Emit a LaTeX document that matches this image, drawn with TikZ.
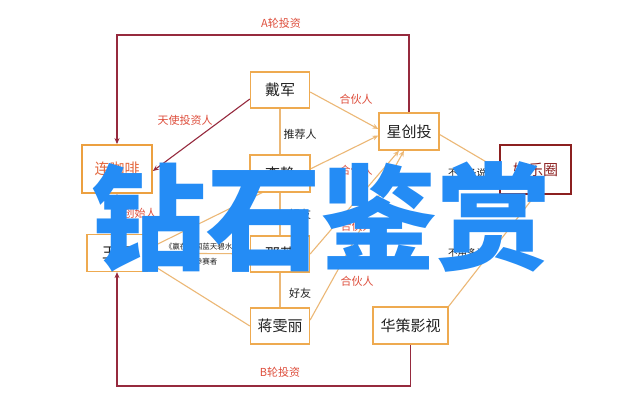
\documentclass[tikz,border=0pt]{standalone}
\usepackage{fontspec}
\setmainfont{Noto Sans CJK SC}
\usetikzlibrary{arrows.meta,backgrounds}
\definecolor{boxorange}{RGB}{238,170,80}
\definecolor{lineorange}{RGB}{236,184,118}
\definecolor{darkred}{RGB}{150,42,62}
\definecolor{lkforange}{RGB}{236,160,64}
\definecolor{lkftext}{RGB}{228,104,62}
\definecolor{ylqred}{RGB}{140,32,32}
\definecolor{lblred}{RGB}{222,78,60}
\definecolor{boxtext}{RGB}{34,34,34}
\definecolor{bigblue}{RGB}{36,140,245}
\tikzset{
  box/.style={draw=boxorange, line width=1.3pt, fill=white, inner sep=0pt,
    font=\fontsize{15}{18}\selectfont, text=boxtext,
    minimum width=60pt, minimum height=37pt},
  lbl/.style={font=\fontsize{11}{13}\selectfont, text=lblred, inner sep=0pt},
  lblk/.style={font=\fontsize{11}{13}\selectfont, text=boxtext, inner sep=0pt},
  lblsmall/.style={font=\fontsize{9.5}{12}\selectfont, text=boxtext, inner sep=0pt},
  oline/.style={draw=lineorange, line width=1.1pt},
  rline/.style={draw=darkred, line width=1.1pt},
  arr/.style={-{Stealth[length=6pt,width=5pt]}},
  bigtext/.style={font=\fontsize{115}{115}\selectfont\bfseries, text=bigblue, inner sep=0pt}
}
\begin{document}
\begin{tikzpicture}[x=1pt,y=-1pt]
\useasboundingbox (0,0) rectangle (640,411);

% boxes
\node[box, minimum width=59pt, minimum height=36pt] (dj) at (280,90) {戴军};
\node[box] (xct) at (409,131.5) {星创投};
\node[box, draw=lkforange, line width=1.8pt, text=lkftext, minimum width=70pt, minimum height=48pt] (lkf) at (117,169) {连咖啡};
\node[box, draw=ylqred, line width=1.8pt, text=ylqred, minimum width=71pt, minimum height=49pt] (ylq) at (535.5,169.5) {娱乐圈};
\node[box] (lj) at (280,173.5) {李静};
\node[box] (wk) at (117,253) {王珂};
\node[box, minimum width=59pt, minimum height=36pt] (ny) at (280,254) {那英};
\node[box, minimum width=59pt, minimum height=36pt] (jwl) at (280,326) {蒋雯丽};
\node[box, minimum width=75pt] (hc) at (410.5,325.5) {华策影视};

% connectors
\begin{pgfonlayer}{background}
\fill[white] (0,0) rectangle (640,411);
\coordinate (atop) at (0,35);
\coordinate (bbot) at (0,386);
\draw[rline,arr] (xct.north) -- (xct.north |- atop) -- (lkf.north |- atop) -- (lkf.north);
\draw[rline,arr] (hc.south) -- (hc.south |- bbot) -- (wk.south |- bbot) -- (wk.south);
\draw[rline,arr] ([yshift=-9pt]dj.west) -- ([yshift=-2pt]lkf.east);
\draw[rline,arr] (wk.north) -- (lkf.south);
\draw[oline,arr] ([yshift=-2pt]dj.east) -- ([yshift=2.5pt]xct.west);
\draw[oline] (dj) -- (lj);
\draw[oline] (lj) -- (ny);
\draw[oline] (ny) -- (jwl);
\draw[oline,arr] ([yshift=4pt]wk.east) -- ([yshift=-4pt]xct.west);
\draw[oline] (wk) -- (ny);
\draw[oline] ([yshift=-9pt]wk.east) -- (jwl.west);
\draw[oline,arr] (ny.east) -- ([xshift=-10pt]xct.south);
\draw[oline,arr] ([yshift=6pt]jwl.east) -- ([xshift=-5pt]xct.south);
\draw[oline] ([yshift=-3pt]xct.east) -- (ylq.west);
\draw[oline] (hc.north east) -- (ylq.south);
\end{pgfonlayer}

% labels
\node[lbl] (la) at (281,23) {A轮投资};
\node[lbl] (lt) at (185,120) {天使投资人};
\node[lbl] (lh1) at (356,99) {合伙人};
\node[lblk] (ltj) at (300,134) {推荐人};
\node[lbl] (lh2) at (356,170) {合伙人};
\node[lblk] (lhy1) at (300,214) {好友};
\node[lbl] (lcs) at (140,213) {创始人};
\node[inner sep=0pt, align=center, text=boxtext, font=\fontsize{7.5}{15}\selectfont] (lyz) at (206,254) {《赢在中国蓝天碧水间》\\参赛者};
\node[lbl] (lh3) at (357,226) {合伙人};
\node[lblk] (lhy2) at (300,293) {好友};
\node[lbl] (lh4) at (357,281) {合伙人};
\node[lblsmall] (lby1) at (467,173) {不用多说};
\node[lblsmall] (lby2) at (467,253) {不用多说};
\node[lbl] (lb) at (280,372) {B轮投资};

% overlay text
\node[bigtext] (big) at (321,217) {钻石鉴赏};
\end{tikzpicture}
\end{document}
